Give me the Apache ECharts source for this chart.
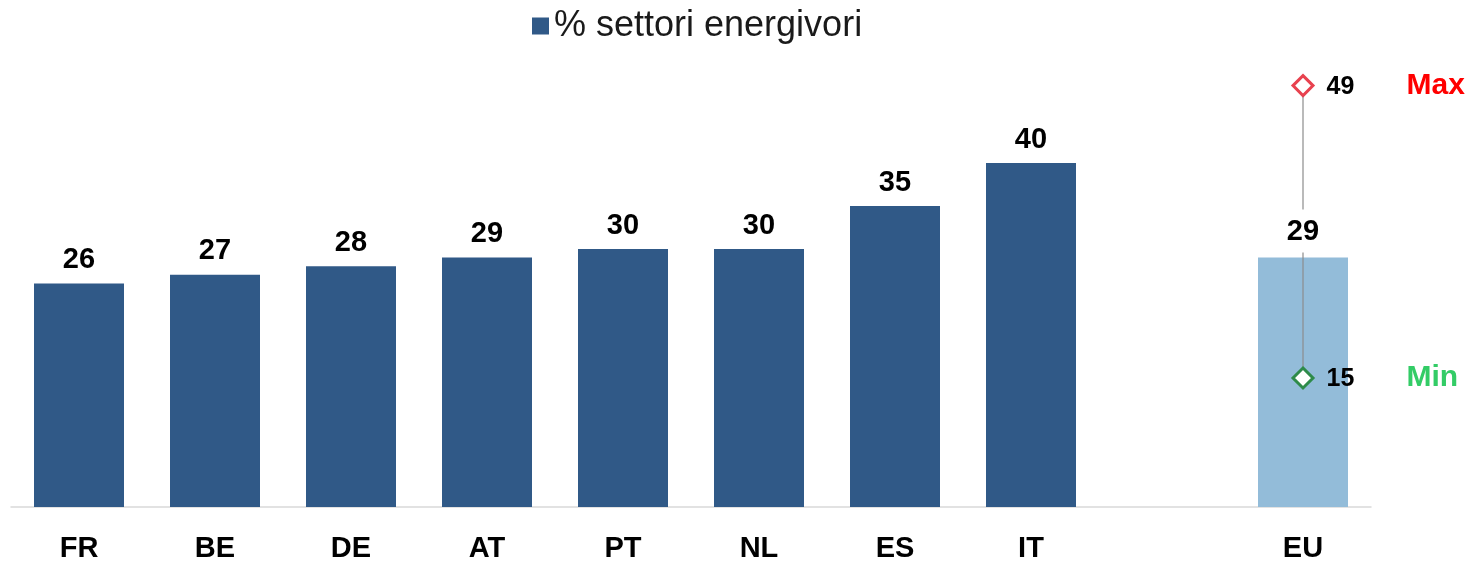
<!DOCTYPE html>
<html><head><meta charset="utf-8">
<script src="https://cdn.jsdelivr.net/npm/echarts@6/dist/echarts.min.js"></script>
<style>html,body{margin:0;padding:0;background:#fff}#c{width:1466px;height:563px}</style>
</head><body><div id="c"></div>
<script>
const categories = ['FR','BE','DE','AT','PT','NL','ES','IT','','EU'];
const values = [26,27,28,29,30,30,35,40,null,29];
const euMax = 49;
const euMin = 15;
const seriesName = '% settori energivori';

const font = '"Liberation Sans", Arial, sans-serif';
const barData = values.map((v, i) => {
  if (v === null) return null;
  if (categories[i] === 'EU') return { value: v, itemStyle: { color: '#93bcd9' }, label: { show: false } };
  return v;
});
const euLabelData = categories.map((c, i) => c === 'EU' ? values[i] : null);

const chart = echarts.init(document.getElementById('c'));
chart.setOption({
  animation: false,
  legend: {
    top: 3, left: 527,
    itemWidth: 17, itemHeight: 17, itemGap: 10,
    textStyle: { fontFamily: font, fontSize: 36, color: '#1a1a1a' },
    data: [{ name: seriesName, icon: 'rect' }]
  },
  grid: { left: 11, right: 95, top: 77, bottom: 55 },
  xAxis: {
    type: 'category', data: categories,
    axisLine: { lineStyle: { color: '#d9d9d9', width: 1.5 } },
    axisTick: { show: false },
    axisLabel: { fontFamily: font, fontSize: 29, fontWeight: 'bold', color: '#000', margin: 27 }
  },
  yAxis: { type: 'value', min: 0, max: 50, show: false, splitLine: { show: false } },
  series: [
    {
      name: seriesName, type: 'bar', data: barData, barWidth: 90, z: 2,
      itemStyle: { color: '#305987' },
      label: { show: true, position: 'top', distance: 9, fontFamily: font, fontSize: 29, fontWeight: 'bold', color: '#000' }
    },
    {
      name: 'range', type: 'line', z: 3,
      data: [
        { value: ['EU', euMax], itemStyle: { color: '#fff', borderColor: '#e8424f', borderWidth: 3 },
          label: { formatter: '{v|' + euMax + '}{m|Max}' } },
        { value: ['EU', euMin], itemStyle: { color: '#fff', borderColor: '#2e8b4a', borderWidth: 3 },
          label: { formatter: '{v|' + euMin + '}{n|Min}' } }
      ],
      symbol: 'diamond', symbolSize: 20, showAllSymbol: true,
      lineStyle: { color: '#8c8c8c', width: 1.2 },
      label: {
        show: true, position: 'right', distance: 12,
        rich: {
          v: { fontFamily: font, fontSize: 25, fontWeight: 'bold', color: '#000', width: 80, padding: [3, 0, 0, 0] },
          m: { fontFamily: font, fontSize: 30, fontWeight: 'bold', color: '#ff0000' },
          n: { fontFamily: font, fontSize: 30, fontWeight: 'bold', color: '#33cc66' }
        }
      }
    },
    {
      name: 'euLabel', type: 'scatter', z: 5, symbolSize: 0, data: euLabelData,
      itemStyle: { opacity: 1 },
      label: {
        show: true, position: 'top', distance: 5,
        fontFamily: font, fontSize: 29, fontWeight: 'bold', color: '#000',
        backgroundColor: '#fff', padding: [8, 6, 6, 6]
      }
    }
  ]
});
</script></body></html>
